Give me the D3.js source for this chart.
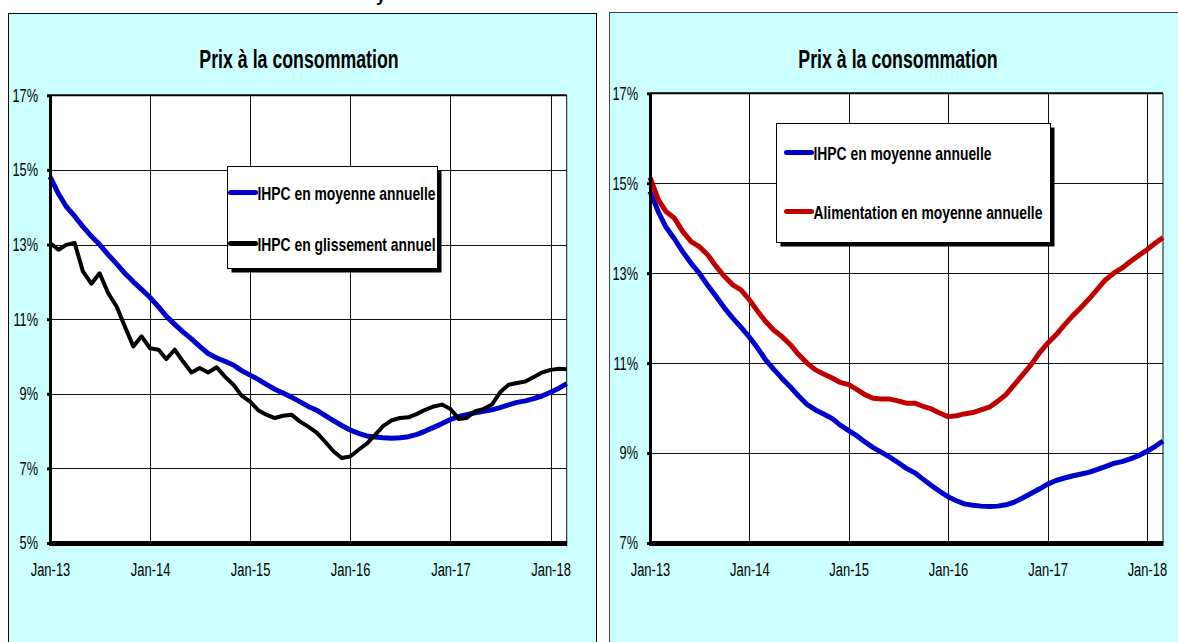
<!DOCTYPE html>
<meta charset="utf-8">
<style>

body {
  margin: 0;
  background: #fff;
}

svg {
  display: block;
  font-family: "Liberation Sans", Arial, sans-serif;
}

</style>
<svg id="chart" width="1178" height="642"></svg>
<script src="https://d3js.org/d3.v7.min.js"></script>
<script>

// Monthly data, Jan-13 to Mar-18.
var firstMonth = new Date(2013, 0, 1),
    lastMonth = new Date(2018, 2, 1);

var months = d3.timeMonth.range(firstMonth, d3.timeMonth.offset(lastMonth, 1));

var yearTicks = [2013, 2014, 2015, 2016, 2017, 2018].map(function(y) { return new Date(y, 0, 1); });
var yearLabels = ["Jan-13", "Jan-14", "Jan-15", "Jan-16", "Jan-17", "Jan-18"];

var leftTicks = [5, 7, 9, 11, 13, 15, 17];
var rightTicks = [7, 9, 11, 13, 15, 17];

var titleText = "Prix à la consommation";

// IHPC en moyenne annuelle (%)
var ihpcMoyenne = [
  14.82, 14.36, 14.02, 13.76, 13.48, 13.22, 13.00, 12.73, 12.48, 12.23, 12.00, 11.80,
  11.58, 11.33, 11.08, 10.86, 10.66, 10.47, 10.27, 10.08, 9.96, 9.87, 9.77, 9.62,
  9.50, 9.38, 9.25, 9.12, 9.02, 8.91, 8.79, 8.66, 8.56, 8.42, 8.28, 8.15,
  8.03, 7.94, 7.87, 7.84, 7.82, 7.81, 7.82, 7.85, 7.91, 8.00, 8.10, 8.20,
  8.31, 8.39, 8.44, 8.49, 8.53, 8.57, 8.63, 8.70, 8.77, 8.81, 8.87, 8.94,
  9.04, 9.15, 9.27
];

// IHPC en glissement annuel (%)
var ihpcGlissement = [
  13.04, 12.86, 12.99, 13.04, 12.28, 11.95, 12.23, 11.70, 11.34, 10.80, 10.27, 10.54,
  10.22, 10.18, 9.93, 10.18, 9.87, 9.57, 9.69, 9.57, 9.71, 9.46, 9.24, 8.95,
  8.79, 8.55, 8.44, 8.35, 8.41, 8.44, 8.26, 8.12, 7.96, 7.72, 7.46, 7.28,
  7.32, 7.50, 7.66, 7.90, 8.14, 8.29, 8.35, 8.37, 8.46, 8.57, 8.66, 8.71,
  8.59, 8.32, 8.35, 8.53, 8.59, 8.71, 9.04, 9.24, 9.29, 9.33, 9.45, 9.57,
  9.64, 9.67, 9.66
];

// Alimentation en moyenne annuelle (%)
var alimMoyenne = [
  15.13, 14.63, 14.37, 14.22, 13.93, 13.70, 13.59, 13.41, 13.15, 12.93, 12.74, 12.63,
  12.41, 12.15, 11.93, 11.73, 11.59, 11.41, 11.19, 11.00, 10.85, 10.76, 10.67, 10.57,
  10.52, 10.41, 10.30, 10.22, 10.20, 10.20, 10.16, 10.11, 10.11, 10.04, 9.98, 9.89,
  9.81, 9.83, 9.87, 9.90, 9.96, 10.02, 10.15, 10.30, 10.52, 10.74, 10.96, 11.22,
  11.44, 11.63, 11.83, 12.04, 12.22, 12.42, 12.63, 12.85, 13.00, 13.11, 13.26, 13.39,
  13.52, 13.67, 13.79
];

var svg = d3.select("svg");

// squeeze text horizontally to look like a narrow bold font
function condense(sel, k) {
  sel.each(function() {
    var w = this.getComputedTextLength();
    d3.select(this).attr("textLength", w * k).attr("lengthAdjust", "spacingAndGlyphs");
  });
}

// tiny cut-off text at the very top of the picture
svg.append("text")
    .attr("x", 376)
    .attr("y", 1)
    .attr("font-size", 18)
    .attr("font-weight", "bold")
    .text("y");

drawPanel({
  box: {x: 8.5, y: 13.5, w: 588, h: 700, stroke: "#000"},
  titleX: 299,
  plot: {left: 50, top: 95.3, right: 566.7, bottom: 543},
  yDomain: [5, 17],
  yTicks: leftTicks,
  series: [
    {values: ihpcMoyenne, color: "#0000cc", width: 5, label: "IHPC en moyenne annuelle"},
    {values: ihpcGlissement, color: "#000", width: 4, label: "IHPC en glissement annuel"}
  ],
  legend: {x: 227.5, y: 166.5, w: 210, h: 102, rows: [26, 77], sample: 3}
});

drawPanel({
  box: {x: 609.5, y: 12.5, w: 600, h: 700, stroke: "#444"},
  titleX: 898,
  plot: {left: 650, top: 93.3, right: 1163, bottom: 543},
  yDomain: [7, 17],
  yTicks: rightTicks,
  series: [
    {values: ihpcMoyenne, color: "#0000cc", width: 5, label: "IHPC en moyenne annuelle"},
    {values: alimMoyenne, color: "#c00000", width: 5, label: "Alimentation en moyenne annuelle"}
  ],
  legend: {x: 776.5, y: 123.5, w: 274, h: 119, rows: [29, 88], sample: 10}
});

function drawPanel(p) {
  var g = svg.append("g");

  g.append("rect")
      .attr("x", p.box.x)
      .attr("y", p.box.y)
      .attr("width", p.box.w)
      .attr("height", p.box.h)
      .attr("fill", "#ccffff")
      .attr("stroke", p.box.stroke);

  g.append("text")
      .attr("x", p.titleX)
      .attr("y", 68)
      .attr("text-anchor", "middle")
      .attr("font-size", 25)
      .attr("font-weight", "bold")
      .text(titleText)
      .call(condense, 0.71);

  var x = d3.scaleTime()
      .domain([firstMonth, lastMonth])
      .range([p.plot.left, p.plot.right]);

  var y = d3.scaleLinear()
      .domain(p.yDomain)
      .range([p.plot.bottom, p.plot.top]);

  var w = p.plot.right - p.plot.left,
      h = p.plot.bottom - p.plot.top;

  g.append("rect")
      .attr("x", p.plot.left)
      .attr("y", p.plot.top)
      .attr("width", w)
      .attr("height", h)
      .attr("fill", "#fff");

  // grid
  g.append("g")
      .attr("transform", "translate(" + p.plot.left + ",0)")
      .call(d3.axisLeft(y).tickValues(p.yTicks).tickSize(-w).tickFormat(""))
      .call(function(s) {
        s.select(".domain").remove();
        s.selectAll("line").attr("stroke", "#111").attr("shape-rendering", "crispEdges");
      });

  g.append("g")
      .attr("transform", "translate(0," + p.plot.bottom + ")")
      .call(d3.axisBottom(x).tickValues(yearTicks).tickSize(-h).tickFormat(""))
      .call(function(s) {
        s.select(".domain").remove();
        s.selectAll("line").attr("stroke", "#111").attr("shape-rendering", "crispEdges");
      });

  // plot frame: top and right
  g.append("line")
      .attr("x1", p.plot.left).attr("x2", p.plot.right)
      .attr("y1", p.plot.top).attr("y2", p.plot.top)
      .attr("stroke", "#000").attr("stroke-width", 2);
  g.append("line")
      .attr("x1", p.plot.right).attr("x2", p.plot.right)
      .attr("y1", p.plot.top).attr("y2", p.plot.bottom)
      .attr("stroke", "#111");

  // series
  var line = d3.line()
      .x(function(d, i) { return x(months[i]); })
      .y(function(d) { return y(d); });

  p.series.forEach(function(s) {
    g.append("path")
        .datum(s.values)
        .attr("fill", "none")
        .attr("stroke", s.color)
        .attr("stroke-width", s.width)
        .attr("stroke-linejoin", "round")
        .attr("d", line);
  });

  // axes
  var yAxis = g.append("g")
      .attr("transform", "translate(" + p.plot.left + ",0)")
      .call(d3.axisLeft(y).tickValues(p.yTicks).tickSize(3).tickSizeOuter(0).tickPadding(9)
          .tickFormat(function(d) { return d + "%"; }));
  yAxis.select(".domain").attr("stroke-width", 3);
  yAxis.selectAll(".tick line").attr("stroke-width", 3);
  yAxis.selectAll("text")
      .attr("font-family", "Liberation Sans, Arial, sans-serif")
      .attr("font-size", 18.5)
      .attr("fill", "#000")
      .call(condense, 0.69);

  var xAxis = g.append("g")
      .attr("transform", "translate(0," + p.plot.bottom + ")")
      .call(d3.axisBottom(x).tickValues(yearTicks).tickSize(3).tickSizeOuter(0).tickPadding(17)
          .tickFormat(function(d, i) { return yearLabels[i]; }));
  xAxis.select(".domain").attr("stroke-width", 5);
  xAxis.selectAll(".tick line").attr("stroke-width", 3);
  xAxis.selectAll("text")
      .attr("font-family", "Liberation Sans, Arial, sans-serif")
      .attr("font-size", 18)
      .attr("fill", "#000")
      .call(condense, 0.72);

  // legend with drop shadow
  var L = p.legend;
  var lg = g.append("g");
  lg.append("rect")
      .attr("x", L.x + 4).attr("y", L.y + 4)
      .attr("width", L.w).attr("height", L.h)
      .attr("fill", "#000");
  lg.append("rect")
      .attr("x", L.x).attr("y", L.y)
      .attr("width", L.w).attr("height", L.h)
      .attr("fill", "#fff")
      .attr("stroke", "#000");

  p.series.forEach(function(s, i) {
    var ry = L.y + L.rows[i];
    lg.append("line")
        .attr("x1", L.x + L.sample).attr("x2", L.x + L.sample + 25)
        .attr("y1", ry).attr("y2", ry)
        .attr("stroke", s.color)
        .attr("stroke-width", 5)
        .attr("stroke-linecap", "round");
    lg.append("text")
        .attr("x", L.x + L.sample + 27)
        .attr("y", ry + 7)
        .attr("font-size", 19)
        .attr("font-weight", "bold")
        .text(s.label)
        .call(condense, 0.73);
  });
}

</script>
